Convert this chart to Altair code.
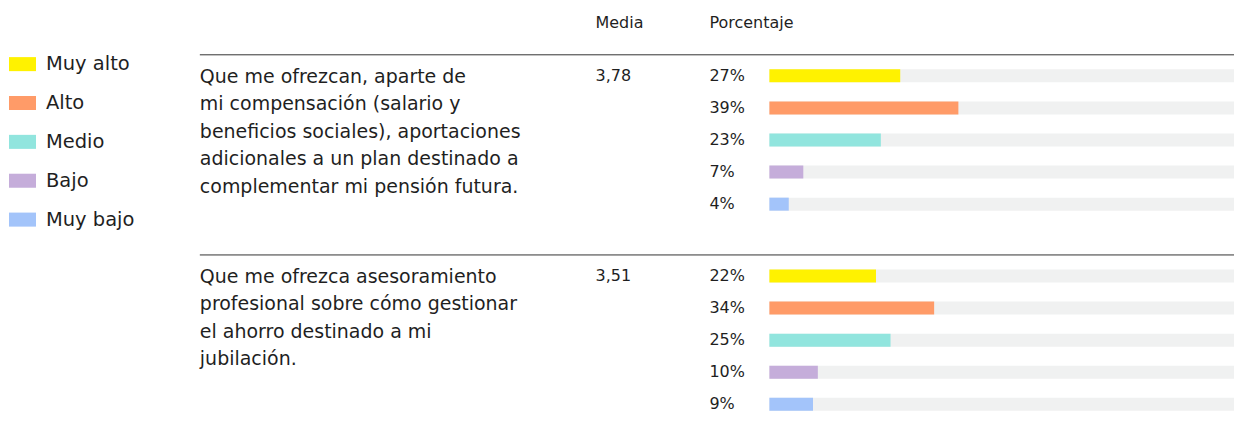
import altair as alt
import pandas as pd

FONT = "DejaVu Sans"
TEXT_COLOR = "#1f1f1f"

levels = ["Muy alto", "Alto", "Medio", "Bajo", "Muy bajo"]
colors = ["#fff200", "#ff9b68", "#91e5de", "#c5adda", "#a3c4fa"]

questions = [
    "Que me ofrezcan, aparte de\nmi compensación (salario y\nbeneficios sociales), aportaciones\nadicionales a un plan destinado a\ncomplementar mi pensión futura.",
    "Que me ofrezca asesoramiento\nprofesional sobre cómo gestionar\nel ahorro destinado a mi\njubilación.",
]
medias = ["3,78", "3,51"]
pct_q1 = [27, 39, 23, 7, 4]
pct_q2 = [22, 34, 25, 10, 9]
pct_sets = [pct_q1, pct_q2]

rows = []
for s, pcts in enumerate(pct_sets):
    for i, (lvl, p) in enumerate(zip(levels, pcts)):
        rows.append({"section": s, "idx": i, "level": lvl, "pct": p, "label": f"{p}%"})
df = pd.DataFrame(rows)
qdf = pd.DataFrame({"section": [0, 1], "question": questions, "media": medias})

W, H = 1227, 428
X0 = 762
STEP = 32.1
Y0 = -2.11
yscale = alt.Scale(domain=[Y0, Y0 + H / STEP], reverse=True, nice=False, zero=False, padding=0)
xscale = alt.Scale(domain=[0, (W - X0) / 4.85], range=[X0, W], nice=False, zero=True, padding=0)

base = alt.Chart(df).transform_calculate(slot="datum.section * 6.24 + datum.idx")
qbase = alt.Chart(qdf).transform_calculate(
    slot="datum.section * 6.24", rslot="datum.section * 6.24 - 0.656"
)

Y = alt.Y("slot:Q", scale=yscale, axis=None)

track = base.mark_bar(orient="horizontal", size=13, color="#f0f1f1").encode(
    x=alt.value(X0), x2=alt.value(W), y=Y
)

bars = base.mark_bar(orient="horizontal", size=13).encode(
    x=alt.X("pct:Q", scale=xscale, axis=None),
    y=Y,
    color=alt.Color(
        "level:N",
        scale=alt.Scale(domain=levels, range=colors),
        legend=alt.Legend(
            orient="none",
            legendX=1,
            legendY=42.5,
            direction="vertical",
            title=None,
            labelFont=FONT,
            labelFontSize=19.5,
            labelColor=TEXT_COLOR,
            symbolType="M-1,-0.52H1V0.52H-1Z",
            symbolSize=729,
            symbolStrokeWidth=0,
            symbolOpacity=1,
            labelOffset=10,
            rowPadding=15.9,
            labelLimit=300,
        ),
    ),
)

pct_text = base.mark_text(
    align="left", baseline="middle", font=FONT, fontSize=16, color=TEXT_COLOR
).encode(x=alt.value(702), y=Y, text="label:N")

q_text = qbase.mark_text(
    align="left", baseline="alphabetic", dy=7, font=FONT, fontSize=19,
    lineBreak="\n", lineHeight=27.5, color=TEXT_COLOR
).encode(x=alt.value(192), y=Y, text="question:N")

m_text = qbase.mark_text(
    align="left", baseline="middle", font=FONT, fontSize=16, color=TEXT_COLOR
).encode(x=alt.value(588), y=Y, text="media:N")

rules = qbase.mark_rule(color="#333333", strokeWidth=1).encode(
    x=alt.value(192), x2=alt.value(W), y=alt.Y("rslot:Q", scale=yscale, axis=None)
)

hdr_media = alt.Chart(pd.DataFrame({"h": ["Media"]})).mark_text(
    align="left", baseline="middle", font=FONT, fontSize=16, color=TEXT_COLOR
).encode(x=alt.value(588), y=alt.value(14.5), text="h:N")

hdr_pct = alt.Chart(pd.DataFrame({"h": ["Porcentaje"]})).mark_text(
    align="left", baseline="middle", font=FONT, fontSize=16, color=TEXT_COLOR
).encode(x=alt.value(702), y=alt.value(14.5), text="h:N")

chart = (
    alt.layer(track, bars, pct_text, q_text, m_text, rules, hdr_media, hdr_pct)
    .properties(width=W, height=H, padding=0)
    .configure_view(stroke=None)
)

chart.save("out.html", embed_options={"renderer": "svg", "actions": False})
